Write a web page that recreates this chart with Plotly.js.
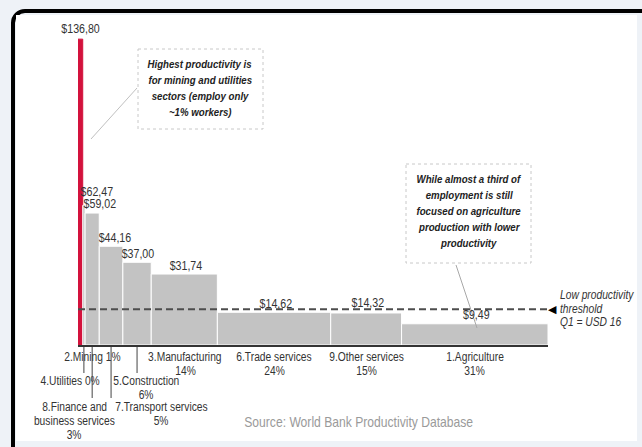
<!DOCTYPE html>
<html>
<head>
<meta charset="utf-8">
<script src="https://cdn.plot.ly/plotly-3.0.1.min.js"></script>
<style>
  html, body { margin: 0; padding: 0; background: #eef2f7; width: 642px; height: 447px; overflow: hidden; }
  #frame { position: absolute; left: 11px; top: 9px; width: 640px; height: 460px; border: 4px solid #000; border-radius: 14px; background: #eef2f7; }
  #paper { position: absolute; left: 16px; top: 15px; width: 621px; height: 426px; background: #fff; }
  #chart { position: absolute; left: 0; top: 0; width: 642px; height: 447px; }
</style>
</head>
<body>
<div id="frame"></div>
<div id="paper"></div>
<div id="chart"></div>
<script>
// ---- data ----
const sectors = ['2.Mining', '4.Utilities', '8.Finance and business services', '7.Transport services',
                 '5.Construction', '3.Manufacturing', '6.Trade services', '9.Other services', '1.Agriculture'];
const productivity = [136.80, 62.47, 59.02, 44.16, 37.00, 31.74, 14.62, 14.32, 9.49];
const employmentShare = [1, 0.5, 3, 5, 6, 14, 24, 15, 31];   // % of workers (bar widths)
const valueLabels = ['$136,80', '$62,47', '$59,02', '$44,16', '$37,00', '$31,74', '$14,62', '$14,32', '$9,49'];
const axisLabels = [
  ['2.Mining 1%'],
  ['4.Utilities 0%'],
  ['8.Finance and', 'business services', '3%'],
  ['7.Transport services', '5%'],
  ['5.Construction', '6%'],
  ['3.Manufacturing', '14%'],
  ['6.Trade services', '24%'],
  ['9.Other services', '15%'],
  ['1.Agriculture', '31%']
];
const threshold = 16;
const thresholdLabel = ['Low productivity', 'threshold', 'Q1 = USD 16'];
const note1 = ['Highest productivity is', 'for mining and utilities', 'sectors (employ only', '~1% workers)'];
const note2 = ['While almost a third of', 'employment is still', 'focused on agriculture', 'production with lower', 'productivity'];
const source = 'Source: World Bank Productivity Database';

// ---- layout geometry (pixels) ----
const W = 642, H = 447;
const L = 78, R = 548, T = 32, B = 345;
const FONT = '"Liberation Sans", Arial, sans-serif';
const NARROW = 0.82;
const px = x => (x - L) / (R - L);           // pixel -> paper x
const py = y => (B - y) / (B - T);           // pixel -> paper y

// cumulative positions
const mids = [];
let acc = 0;
employmentShare.forEach(w => { mids.push(acc + w / 2); acc += w; });
const total = acc;

const barColors = productivity.map((_, i) => i === 0 ? '#d3123c' : '#c3c3c3');
const lineColors = productivity.map((_, i) => i === 0 ? '#d3123c' : '#ffffff');

const trace = {
  type: 'bar',
  x: mids,
  y: productivity,
  width: employmentShare,
  marker: { color: barColors, line: { color: lineColors, width: 1 } },
  hoverinfo: 'skip',
  text: sectors,
  textposition: 'none'
};

const annotations = [];
// value labels
const valShift = [[0, 11], [13, 14], [8, 10], [4, 9], [1, 9], [2, 9], [2, 9], [2, 10], [2, 9]];
valueLabels.forEach((t, i) => {
  annotations.push({
    x: mids[i], y: productivity[i], xref: 'x', yref: 'y', text: t, showarrow: false,
    xanchor: 'center', yanchor: 'middle', xshift: valShift[i][0], yshift: valShift[i][1],
    font: { family: FONT, size: 13, color: '#333' }
  });
});
// category labels below axis
const labPos = [[12, 357], [-14, 381], [-18, 407], [50, 407], [9, 381], [1, 357], [0, 357], [0, 357], [0, 357]];
axisLabels.forEach((lines, i) => {
  lines.forEach((t, j) => {
    annotations.push({
      x: mids[i], y: 0, xref: 'x', yref: 'paper', text: t, showarrow: false,
      xanchor: 'center', yanchor: 'middle', xshift: labPos[i][0], yshift: -(labPos[i][1] + j * 14 - B),
      font: { family: FONT, size: 12.5, color: '#333' }
    });
  });
});
// threshold label
thresholdLabel.forEach((t, j) => {
  annotations.push({
    x: px(558), y: threshold, xref: 'paper', yref: 'y', text: '<i>' + t + '</i>', showarrow: false,
    xanchor: 'left', yanchor: 'middle', yshift: [14, 0, -13][j],
    font: { family: FONT, size: 12.5, color: '#333' }
  });
});
// arrow head
annotations.push({
  x: px(552), y: threshold, xref: 'paper', yref: 'y', text: '◀', showarrow: false,
  xanchor: 'center', yanchor: 'middle', font: { family: 'DejaVu Sans', size: 11, color: '#000' }
});
// notes
note1.forEach((t, j) => {
  annotations.push({
    x: px(200), y: py(64 + j * 16), xref: 'paper', yref: 'paper', text: '<b><i>' + t + '</i></b>', showarrow: false,
    xanchor: 'center', yanchor: 'middle', font: { family: FONT, size: 11.8, color: '#222' }
  });
});
note2.forEach((t, j) => {
  annotations.push({
    x: px(469), y: py(179 + j * 16), xref: 'paper', yref: 'paper', text: '<b><i>' + t + '</i></b>', showarrow: false,
    xanchor: 'center', yanchor: 'middle', font: { family: FONT, size: 11.8, color: '#222' }
  });
});
// source
annotations.push({
  x: px(358), y: py(422), xref: 'paper', yref: 'paper', text: source, showarrow: false,
  xanchor: 'center', yanchor: 'middle', font: { family: FONT, size: 14.8, color: '#9a9a9a' }
});

const shapes = [
  // threshold dashed line
  { type: 'line', xref: 'paper', yref: 'y', x0: 0, x1: px(550), y0: threshold, y1: threshold,
    line: { color: '#4d4d4d', width: 2, dash: '7px,4px' } },
  // note boxes
  { type: 'rect', xref: 'paper', yref: 'paper', x0: px(138), x1: px(263), y0: py(49), y1: py(129),
    line: { color: '#c8c8c8', width: 1, dash: 'dot' } },
  { type: 'rect', xref: 'paper', yref: 'paper', x0: px(406), x1: px(531), y0: py(164), y1: py(263),
    line: { color: '#c8c8c8', width: 1, dash: 'dot' } },
  // leader lines
  { type: 'line', xref: 'paper', yref: 'paper', x0: px(137), y0: py(88), x1: px(91), y1: py(139),
    line: { color: '#c0c0c0', width: 1 } },
  { type: 'line', xref: 'paper', yref: 'paper', x0: px(456), y0: py(265), x1: px(477), y1: py(328),
    line: { color: '#a8a8a8', width: 1 } }
];
// tick leader lines below axis (utilities, finance, transport, construction)
[[1, 373], [2, 398], [3, 398], [4, 373]].forEach(([i, yEnd]) => {
  shapes.push({ type: 'line', xref: 'x', yref: 'paper', x0: mids[i], x1: mids[i], y0: py(347), y1: py(yEnd),
    line: { color: '#444', width: 1 } });
});

const layout = {
  width: W, height: H,
  margin: { l: L, r: W - R, t: T, b: H - B, pad: 0 },
  paper_bgcolor: 'rgba(0,0,0,0)',
  plot_bgcolor: 'rgba(0,0,0,0)',
  showlegend: false,
  bargap: 0,
  xaxis: { range: [0, total], showgrid: false, zeroline: false, showticklabels: false, ticks: '',
           showline: true, linecolor: '#333', linewidth: 2, fixedrange: true },
  yaxis: { range: [0, 140], showgrid: false, zeroline: false, showticklabels: false, ticks: '',
           showline: false, fixedrange: true },
  annotations: annotations,
  shapes: shapes
};

// condense text horizontally to mimic a narrow typeface
function condense() {
  document.querySelectorAll('#chart g.annotation').forEach(g => {
    const idx = +g.getAttribute('data-index');
    const a = annotations[idx];
    if (!a || a.text === '◀') return;
    const t = g.querySelector('text.annotation-text');
    if (!t) return;
    t.style.transformBox = 'fill-box';
    t.style.transformOrigin = a.xanchor === 'left' ? 'left center' : 'center center';
    t.style.transform = 'scaleX(' + NARROW + ')';
  });
}

Plotly.newPlot('chart', [trace], layout, { displayModeBar: false, staticPlot: true }).then(condense);
</script>
</body>
</html>
